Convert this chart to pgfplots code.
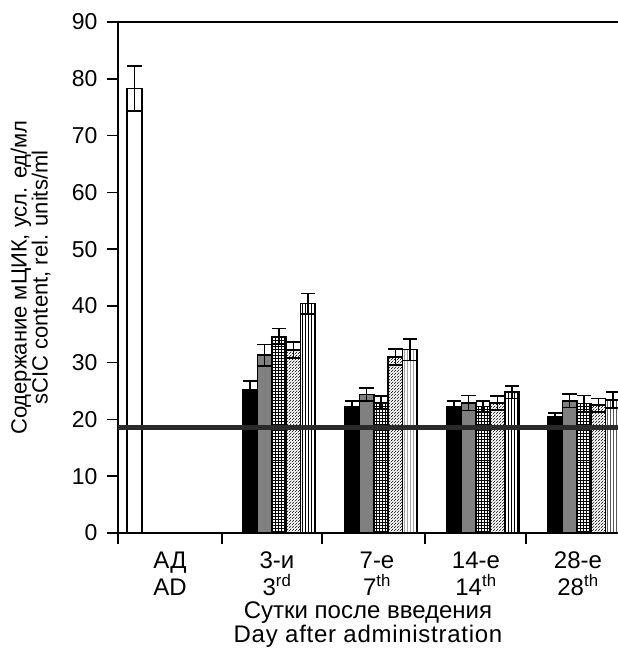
\documentclass[border=0pt]{standalone}
\usepackage{pgfplots}
\pgfplotsset{compat=1.18}
\usepackage{fontspec}
\setmainfont{Liberation Sans}
\usetikzlibrary{patterns,patterns.meta}
\definecolor{midgray}{HTML}{808080}
\definecolor{refline}{HTML}{2A2A2A}
\tikzdeclarepattern{name=denseNE, type=uncolored, bounding box={(0,0) and (2.6bp,2.6bp)}, tile size={(2.6bp,2.6bp)},
  code={\draw[line width=0.75bp] (-0.1bp,-0.1bp) -- (2.7bp,2.7bp);}}

\pgfplotstableread{
x y e
16.5 78.3 4.0
}\tabAD
\pgfplotstableread{
x y e
132.2 25.3 1.5
234.2 22.2 1.0
336.2 22.2 1.0
437.2 20.5 0.6
}\tabA
\pgfplotstableread{
x y e
146.6 31.3 1.9
248.6 24.4 1.1
350.6 22.9 1.3
451.6 23.3 1.2
}\tabB
\pgfplotstableread{
x y e
161.0 34.6 1.4
263.0 23.0 1.1
365.0 22.3 1.0
466.0 22.8 1.4
}\tabC
\pgfplotstableread{
x y e
175.4 32.2 1.4
277.4 31.0 1.4
379.4 22.9 1.2
480.4 22.5 1.2
}\tabD
\pgfplotstableread{
x y e
189.8 40.4 1.8
291.8 32.3 1.9
393.8 24.8 1.1
494.8 23.4 1.4
}\tabE

\begin{document}
\fontsize{22bp}{27bp}\selectfont
\begin{tikzpicture}[x=1bp,y=1bp]
\path[use as bounding box] (-118,-115) rectangle (500,533);
\begin{axis}[
  at={(0,0)}, anchor=origin,
  scale only axis, width=500bp, height=511bp,
  xmin=0, xmax=500, ymin=0, ymax=90,
  clip=false,
  axis x line*=bottom, axis y line*=left,
  axis line style={line width=1.6bp, black},
  ytick={0,10,...,90},
  xtick={0,104,204,307,408},
  xticklabels={},
  extra x ticks={52,159,259,358,460},
  extra x tick labels={АД\\AD,3-и\\3\textsuperscript{rd},7-е\\7\textsuperscript{th},14-е\\14\textsuperscript{th},28-е\\28\textsuperscript{th}},
  extra x tick style={major tick length=0pt, xticklabel style={align=center, inner sep=0pt, yshift=-19bp, font=\fontsize{24bp}{27bp}\selectfont}},
  tick align=outside,
  tick style={line width=1.6bp, black},
  major tick length=11bp,
  /pgf/number format/assume math mode=true,
  yticklabel style={xshift=-2bp, font=\fontsize{23bp}{27bp}\selectfont},
  xlabel={Сутки после введения\\{\addfontfeature{LetterSpace=3}Day after administration}},
  xlabel style={at={(axis description cs:0.5,-0.134)}, anchor=north, align=center, inner sep=0pt, font=\fontsize{24bp}{24bp}\selectfont},
  ylabel={Содержание мЦИК, усл. ед/мл\\sCIC content, rel. units/ml},
  ylabel style={at={(axis description cs:-0.12,0.5)}, anchor=south, align=center, font=\fontsize{22bp}{21bp}\selectfont},
  barstyle/.style={ybar, bar width=14.4bp, bar shift=0pt, draw=black, line width=1.6bp,
    error bars/y dir=both, error bars/y explicit,
    error bars/error bar style={line width=1.6bp, black},
    error bars/error mark options={rotate=90, mark size=7.2bp, line width=1.6bp, black}},
]
\addplot[barstyle, fill=white] table[x=x, y=y, y error=e] {\tabAD};
\addplot[barstyle, fill=black] table[x=x, y=y, y error=e] {\tabA};
\addplot[barstyle, fill=midgray] table[x=x, y=y, y error=e] {\tabB};
\addplot[barstyle, pattern=grid, pattern color=black] table[x=x, y=y, y error=e] {\tabC};
\addplot[barstyle, pattern=denseNE, pattern color=black] table[x=x, y=y, y error=e] {\tabD};
\addplot[barstyle, pattern=vertical lines, pattern color=black] table[x=x, y=y, y error=e] {\tabE};
\addplot[refline, line width=5bp, sharp plot, forget plot] coordinates {(0,18.5) (500,18.5)};
\draw[line width=1.6bp, black] (rel axis cs:0,1) -- (rel axis cs:1,1);
\end{axis}
\end{tikzpicture}
\end{document}
